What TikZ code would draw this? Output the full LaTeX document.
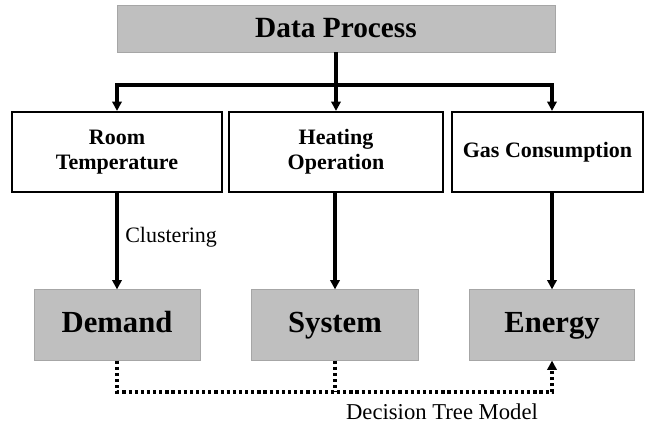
\documentclass[tikz,border=0pt]{standalone}
\usepackage{fontspec}
\setmainfont{Liberation Serif}
\usetikzlibrary{arrows.meta,positioning,calc}

\begin{document}
\begin{tikzpicture}[
  x=0.75pt,y=-0.75pt,
  graybox/.style={draw=black!35,thin,fill=black!25,inner sep=0pt,align=center},
  bigbox/.style={graybox,minimum height=53pt,text height=16pt,text depth=5pt,font=\fontsize{23}{27}\selectfont\bfseries},
  whitebox/.style={draw,line width=1.6pt,fill=white,inner sep=0pt,align=center,font=\fontsize{16.5}{19}\selectfont\bfseries},
  arrow/.style={-{Triangle[length=7pt,width=7pt]},line width=2.3pt},
  dotline/.style={line width=2.4pt,dash pattern=on 2.4pt off 2.2pt},
  dotarrow/.style={dotline,-{Triangle[length=7pt,width=7pt]}}
]
  \useasboundingbox (0,0) rectangle (645,423);

  \node (data) [graybox,minimum width=328.5pt,minimum height=35pt,font=\fontsize{22}{26}\selectfont\bfseries] at (336,28.5) {Data Process};

  \node (room) [whitebox,minimum width=157.5pt,minimum height=60pt] at (117,152) {Room\\Temperature};
  \node (heat) [whitebox,minimum width=160.5pt,minimum height=60pt] at (336,152) {Heating\\Operation};
  \node (gas) [whitebox,minimum width=143pt,minimum height=60pt] at (547.5,152) {Gas Consumption};

  \node (demand) [bigbox,minimum width=124.5pt] at (117,325) {Demand};
  \node (system) [bigbox,minimum width=125pt] at (335,325) {System};
  \node (energy) [bigbox,minimum width=124pt] at (552,325) {Energy};

  \node (clust) [anchor=west,inner sep=0pt,font=\fontsize{16.5}{19}\selectfont] at (125,237) {Clustering};
  \node (dtm) [inner sep=0pt,font=\fontsize{17}{20}\selectfont] at (442,412) {Decision\ Tree Model};

  \coordinate (split) at (336,85);
  \coordinate (low) at (117,392);

  \draw[line width=2.3pt] (data) -- (split);
  \draw[arrow] (split) -| (room);
  \draw[arrow] (split) -- (heat);
  \draw[arrow] (split) -| (energy |- gas.north);

  \draw[arrow] (room) -- (demand);
  \draw[arrow] (heat.south -| system) -- (system);
  \draw[arrow] (gas.south -| energy) -- (energy);

  \draw[dotarrow] (demand.south) -- (low) -| (energy.south);
  \draw[dotline] (system.south) -- (system.south |- low);
\end{tikzpicture}
\end{document}
